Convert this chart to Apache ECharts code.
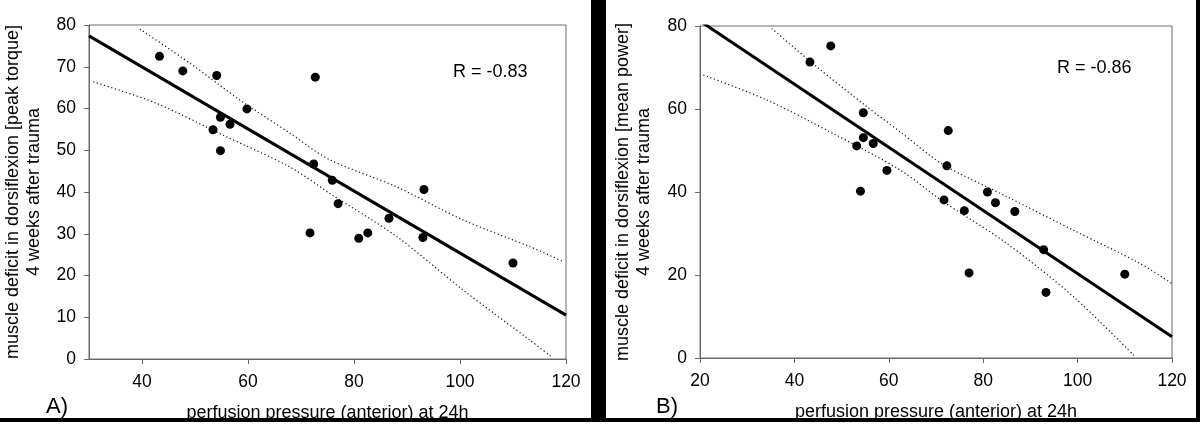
<!DOCTYPE html>
<html>
<head>
<meta charset="utf-8">
<script src="https://cdn.jsdelivr.net/npm/echarts@6/dist/echarts.min.js"></script>
<style>
html,body{margin:0;padding:0;background:#fff;}
#c{width:1200px;height:429px;}
</style>
</head>
<body>
<div id="c"></div>
<script>
// ---- Panel A: peak torque ----
const pointsA = [[43.3,72.5],[47.7,69.0],[54.1,67.9],[59.8,59.9],[54.8,57.9],[56.6,56.2],[53.4,54.9],[54.8,49.9],
  [72.7,67.5],[72.4,46.7],[75.9,42.8],[93.2,40.6],[77.0,37.2],[71.7,30.2],[80.9,28.9],[82.6,30.2],[86.6,33.7],[93.0,29.1],[110.0,23.0]];
const fitA = [[30,77.4],[120,10.5]];
const upperA = [[39.6,79.0],[49.1,70.8],[58.5,62.0],[67.9,54.1],[75.3,47.8],[88.1,41.2],[100.6,33.3],[113.2,26.9],[119.5,23.3]];
const lowerA = [[30.8,66.4],[42.8,61.2],[55.3,53.6],[67.9,46.0],[75.5,39.6],[88.1,29.3],[100.6,16.5],[113.2,4.5],[117.3,0.5]];
const xTicksA = [40,60,80,100,120];
const yTicksA = [0,10,20,30,40,50,60,70,80];

// ---- Panel B: mean power ----
const pointsB = [[43.3,71.3],[47.7,75.2],[54.6,59.1],[54.6,53.1],[56.7,51.7],[53.2,51.1],[59.6,45.2],[54.0,40.2],
  [72.6,54.8],[72.3,46.3],[80.9,40.0],[82.6,37.4],[71.7,38.1],[76.0,35.5],[86.7,35.3],[92.8,26.1],[77.0,20.5],[93.3,15.8],[110.0,20.2]];
const fitB = [[20,81.2],[120,5.1]];
const upperB = [[35.2,79.4],[44.7,70.2],[55.3,60.6],[62.4,54.5],[71.4,46.7],[85.0,38.9],[99.1,30.8],[113.2,22.8],[119.9,18.0]];
const lowerB = [[20.7,68.2],[34.1,62.2],[48.2,54.1],[62.4,45.3],[71.0,38.1],[85.0,27.6],[99.1,14.8],[112.2,0.3]];
const xTicksB = [20,40,60,80,100,120];
const yTicksB = [0,20,40,60,80];

const labels = {
  xTitle: 'perfusion pressure (anterior) at 24h',
  yTitleA: 'muscle deficit in dorsiflexion [peak torque]\n4 weeks after trauma',
  yTitleB: 'muscle deficit in dorsiflexion [mean power]\n4 weeks after trauma',
  rA: 'R = -0.83', rB: 'R = -0.86', panelA: 'A)', panelB: 'B)'
};

const FONT = '"Liberation Sans", Arial, sans-serif';
const axisCol = '#6a6a6a';

function xAxisCfg(gi, min, max, ticks) {
  return {
    type: 'value', gridIndex: gi, min: min, max: max,
    name: labels.xTitle, nameLocation: 'middle', nameGap: 45,
    nameTextStyle: {fontFamily: FONT, fontSize: 18, color: '#000'},
    axisLine: {show: true, lineStyle: {color: axisCol, width: 1}},
    axisTick: {show: true, inside: false, length: 5, lineStyle: {color: axisCol}, customValues: ticks},
    axisLabel: {fontFamily: FONT, fontSize: 17.5, color: '#000', margin: 14, customValues: ticks},
    splitLine: {show: false}
  };
}
function yAxisCfg(gi, ticks, name, gap) {
  return {
    type: 'value', gridIndex: gi, min: 0, max: 80,
    name: name, nameLocation: 'middle', nameGap: gap, nameRotate: 90,
    nameTextStyle: {fontFamily: FONT, fontSize: 18, color: '#000', lineHeight: 21},
    axisLine: {show: true, lineStyle: {color: axisCol, width: 1}},
    axisTick: {show: true, inside: false, length: 5, lineStyle: {color: axisCol}, customValues: ticks},
    axisLabel: {fontFamily: FONT, fontSize: 17.5, color: '#000', margin: 13, customValues: ticks},
    splitLine: {show: false}
  };
}
function seriesFor(i, pts, fit, up, lo) {
  const band = {type: 'line', xAxisIndex: i, yAxisIndex: i, smooth: 0.3, symbol: 'none', clip: true,
    lineStyle: {color: '#111', width: 1.2, type: [1.2, 2.6]}, silent: true, z: 2};
  return [
    Object.assign({}, band, {data: up}),
    Object.assign({}, band, {data: lo}),
    {type: 'line', xAxisIndex: i, yAxisIndex: i, data: fit, symbol: 'none', clip: true,
      lineStyle: {color: '#000', width: 3}, z: 3},
    {type: 'scatter', xAxisIndex: i, yAxisIndex: i, data: pts, symbol: 'circle', symbolSize: 9,
      itemStyle: {color: '#000', opacity: 1}, z: 4}
  ];
}

const chart = echarts.init(document.getElementById('c'), null, {renderer: 'canvas'});
chart.setOption({
  animation: false,
  backgroundColor: '#fff',
  grid: [
    {left: 89, top: 25, right: 634, bottom: 70, containLabel: false, outerBoundsMode: 'none',
      show: true, borderColor: axisCol, borderWidth: 1, backgroundColor: 'transparent'},
    {left: 700, top: 26, right: 28, bottom: 71, containLabel: false, outerBoundsMode: 'none',
      show: true, borderColor: axisCol, borderWidth: 1, backgroundColor: 'transparent'}
  ],
  xAxis: [xAxisCfg(0, 30, 120, xTicksA), xAxisCfg(1, 20, 120, xTicksB)],
  yAxis: [yAxisCfg(0, yTicksA, labels.yTitleA, 44), yAxisCfg(1, yTicksB, labels.yTitleB, 45)],
  series: [].concat(seriesFor(0, pointsA, fitA, upperA, lowerA), seriesFor(1, pointsB, fitB, upperB, lowerB)),
  graphic: [
    {type: 'text', left: 453, top: 63, style: {text: labels.rA, font: '18px ' + FONT, fill: '#000'}},
    {type: 'text', left: 1057, top: 59, style: {text: labels.rB, font: '18px ' + FONT, fill: '#000'}},
    {type: 'text', left: 46, top: 396, style: {text: labels.panelA, font: '22px ' + FONT, fill: '#000'}},
    {type: 'text', left: 656, top: 396, style: {text: labels.panelB, font: '22px ' + FONT, fill: '#000'}},
    {type: 'rect', shape: {x: 0, y: 418, width: 1200, height: 4}, style: {fill: '#000'}},
    {type: 'rect', shape: {x: 591, y: 0, width: 15, height: 422}, style: {fill: '#000'}},
    {type: 'rect', shape: {x: 1196, y: 0, width: 4, height: 422}, style: {fill: '#000'}}
  ]
});
</script>
</body>
</html>
